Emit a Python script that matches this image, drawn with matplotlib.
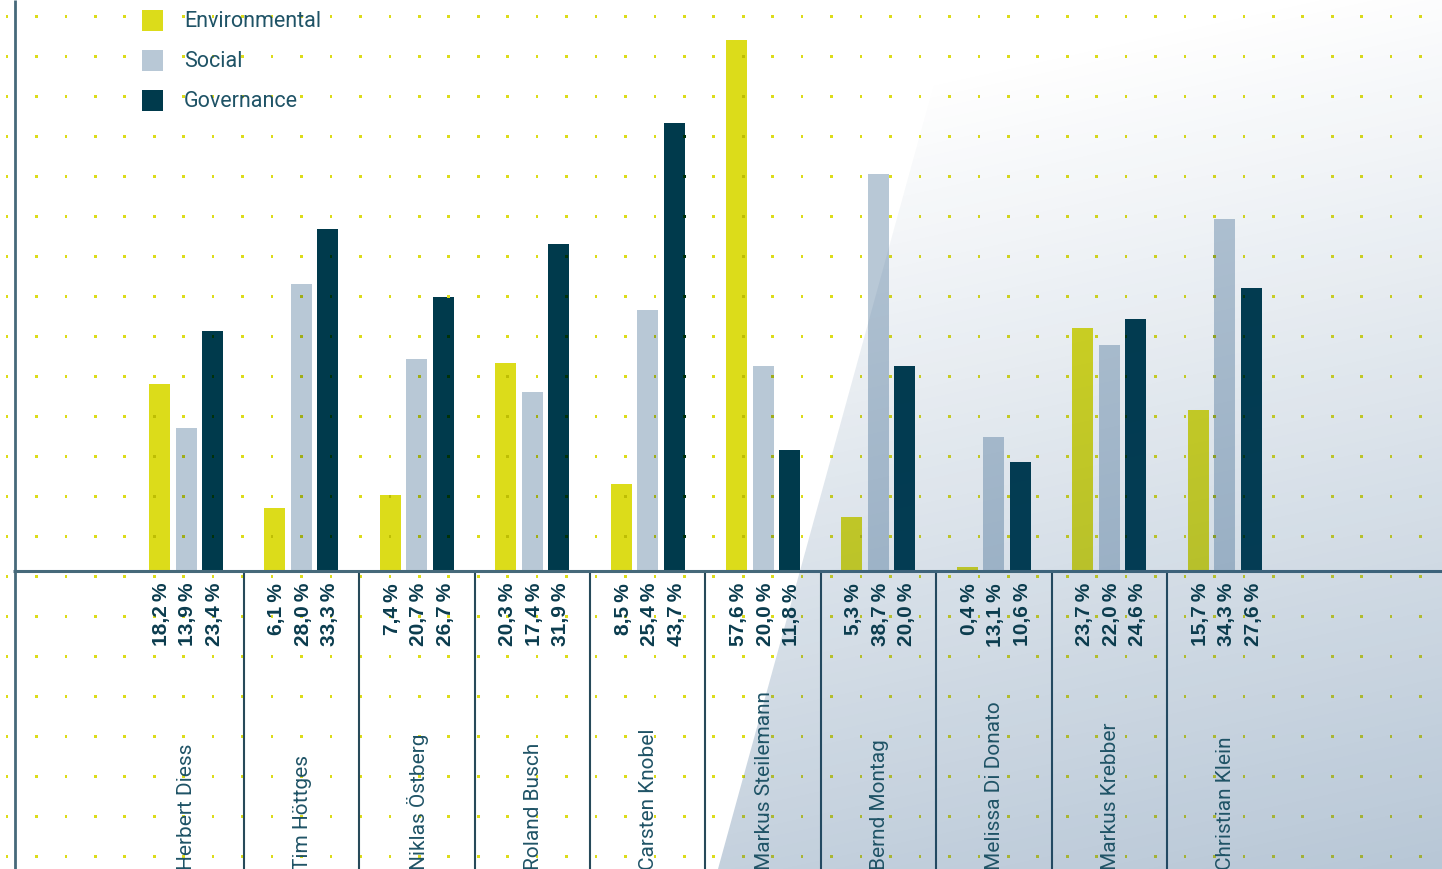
import numpy as np
import matplotlib
matplotlib.use("Agg")
import matplotlib.pyplot as plt
from matplotlib.patches import Rectangle, Polygon
from matplotlib.colors import to_rgb

plt.rcParams['font.family'] = ['Liberation Sans', 'DejaVu Sans']

# ESG share per CEO (percent)
names = ["Herbert Diess", "Tim Höttges", "Niklas Östberg", "Roland Busch",
         "Carsten Knobel", "Markus Steilemann", "Bernd Montag",
         "Melissa Di Donato", "Markus Krebber", "Christian Klein"]
environmental = [18.2, 6.1, 7.4, 20.3, 8.5, 57.6, 5.3, 0.4, 23.7, 15.7]
social = [13.9, 28.0, 20.7, 17.4, 25.4, 20.0, 38.7, 13.1, 22.0, 34.3]
governance = [23.4, 33.3, 26.7, 31.9, 43.7, 11.8, 20.0, 10.6, 24.6, 27.6]
series_labels = ["Environmental", "Social", "Governance"]

# styling
C_ENV = "#dcdc1a"
C_SOC = "#b8c8d6"
C_GOV = "#003a4c"
C_DOT = "#dcdc1a"
C_NUM = "#0b3c4e"
C_NAME = "#1f5366"
C_AXIS = "#46697a"
C_SEP = "#274a5a"
LIGHT_FONT = ["Roboto", "DejaVu Sans"]

W, H = 1442, 869
X0, GX = 186.0, 115.4      # first group centre / group pitch (px)
BASE, PPV = 571.0, 10.26   # baseline (px from top) / px per percent


def dx(px):
    return (px - X0) / GX


def dy(py):
    return (BASE - py) / PPV


fig = plt.figure(figsize=(W / 100, H / 100), dpi=100)
ax = fig.add_axes([0, 0, 1, 1])
ax.set_xlim(dx(0), dx(W))
ax.set_ylim(dy(H), dy(0))
ax.axis("off")

# plot area ends a little below the top edge
cap = dy(40)
cap_rect = Rectangle((dx(0), dy(H)), dx(W) - dx(0), cap - dy(H),
                     transform=ax.transData)

x = np.arange(len(names))
bar_w = 21 / GX
offsets = np.array([-26.5, 0.0, 26.5]) / GX
series = [environmental, social, governance]
colors = [C_ENV, C_SOC, C_GOV]

bar_rects = []
for vals, off, col in zip(series, offsets, colors):
    cont = ax.bar(x + off, vals, width=bar_w, color=col, linewidth=0, zorder=2)
    for p in cont.patches:
        p.set_clip_path(cap_rect)
        bar_rects.append((p.get_x(), p.get_x() + p.get_width(),
                          min(p.get_height(), cap), to_rgb(col)))

# dotted background grid, drawn over the bars (multiplied tone inside bars)
cols_px = 7 + 29.45 * np.arange(49)
rows_px = 16.5 + 40 * np.arange(22)
gx, gy = np.meshgrid(dx(cols_px), dy(rows_px))
gx, gy = gx.ravel(), gy.ravel()
dot_rgb = np.array(to_rgb(C_DOT))
dot_cols = np.tile(dot_rgb, (gx.size, 1))
for x0, x1, top, rgb in bar_rects:
    inside = (gx >= x0) & (gx <= x1) & (gy >= 0) & (gy <= top)
    dot_cols[inside] = dot_rgb * np.array(rgb)
ax.scatter(gx, gy, s=3.6, marker="s", c=dot_cols, linewidths=0, zorder=3)

# axes and group separators
ax.vlines(x[:-1] + 0.5, dy(H), 0, color=C_SEP, lw=1.5, zorder=3)
ax.vlines(dx(14.5), dy(H), dy(0), color=C_AXIS, lw=2.0, zorder=3)
ax.hlines(0, dx(13), dx(W), color=C_AXIS, lw=2.2, zorder=3)

# translucent shaded panel on the right
yy, xx = np.mgrid[0:H, 0:W].astype(float)
alpha = np.clip(0.02 + 0.00034 * (yy - 25) + 0.000075 * (xx - 1420), 0, 1)
shade = np.zeros((H, W, 4))
shade[..., 0] = 22 / 255
shade[..., 1] = 72 / 255
shade[..., 2] = 122 / 255
shade[..., 3] = alpha
im = ax.imshow(shade, extent=[dx(0), dx(W), dy(H), dy(0)], origin="upper",
               aspect="auto", interpolation="bilinear", zorder=4)
panel = Polygon([(dx(957), dy(0)), (dx(W), dy(0)), (dx(W), dy(H)),
                 (dx(718), dy(H))], closed=True, transform=ax.transData)
im.set_clip_path(panel)

# value labels under the bars
for vals, off in zip(series, offsets):
    for xi, v in zip(x, vals):
        ax.text(xi + off + 2 / GX, dy(583),
                f"{v:.1f}".replace(".", ",") + "\u2009%",
                rotation=90, ha="center", va="top", fontsize=15,
                fontweight="bold", color=C_NUM, zorder=5)

# names
for xi, n in zip(x, names):
    ax.text(xi + 1 / GX, dy(870), n, rotation=90, ha="center", va="bottom",
            fontsize=15, color=C_NAME, family=LIGHT_FONT, zorder=5)

# legend
for k, (lab, col) in enumerate(zip(series_labels, colors)):
    top = 10 + 40 * k
    ax.add_patch(Rectangle((dx(142), dy(top + 21)), 21 / GX, 21 / PPV,
                           color=col, lw=0, zorder=5))
    ax.text(dx(184), dy(top + 17), lab, ha="left", va="baseline",
            fontsize=15.5, color=C_NAME, family=LIGHT_FONT, zorder=5)

fig.savefig("out.png", dpi=100)
